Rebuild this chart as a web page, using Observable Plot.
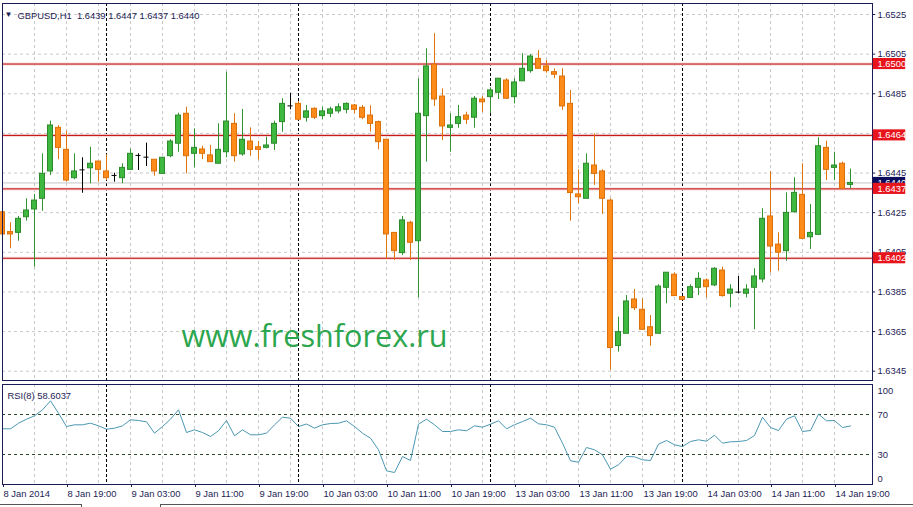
<!DOCTYPE html>
<html><head><meta charset="utf-8">
<script src="https://cdn.jsdelivr.net/npm/d3@7"></script>
<script src="https://cdn.jsdelivr.net/npm/@observablehq/plot@0.6"></script>
<style>
body{margin:0;background:#fff;width:913px;height:507px;overflow:hidden;font-family:"Liberation Sans",Arial,sans-serif;}
#wrap{position:relative;width:913px;height:507px;}
#main,#rsi{position:absolute;left:0;}
#main{top:0}
#rsi{top:382px}
.tab{position:absolute;top:504px;height:4px;border-top:1px solid #555;}
svg text{white-space:pre;}
</style></head><body><div id="wrap"><div id="main"></div><div id="rsi"></div>
<div class="tab" style="left:0;width:81px;border-right:1px solid #555"></div>
<div class="tab" style="left:160px;width:753px;border-left:1px solid #555"></div>
</div>
<script>
const symbol = "GBPUSD,H1";
const open  = [1.64252,1.64152,1.64148,1.64227,1.64266,1.64320,1.64458,1.64678,1.64567,1.64424,1.64466,1.64474,1.64508,1.64458,1.64438,1.64424,1.64466,1.64539,1.64530,1.64517,1.64446,1.64535,1.64598,1.64749,1.64547,1.64569,1.64539,1.64497,1.64555,1.64698,1.64544,1.64609,1.64580,1.64577,1.64598,1.64707,1.64789,1.64799,1.64729,1.64774,1.64737,1.64749,1.64761,1.64769,1.64791,1.64779,1.64740,1.64707,1.64618,1.64148,1.64046,1.64199,1.64106,1.64737,1.64998,1.64836,1.64678,1.64698,1.64740,1.64729,1.64821,1.64833,1.64855,1.64917,1.64833,1.64913,1.64964,1.65026,1.64988,1.64959,1.64937,1.64799,1.64342,1.64320,1.64488,1.64458,1.64311,1.63577,1.63639,1.63812,1.63760,1.63672,1.63639,1.63871,1.63937,1.63824,1.63820,1.63871,1.63908,1.63883,1.63958,1.63841,1.63849,1.63841,1.63871,1.63913,1.64231,1.64089,1.64056,1.64252,1.64340,1.64126,1.64138,1.64577,1.64476,1.64497,1.6439];
const high  = [1.64303,1.64199,1.64231,1.64320,1.64342,1.64547,1.64712,1.64690,1.64660,1.64547,1.64527,1.64580,1.64508,1.64542,1.64449,1.64497,1.64570,1.64547,1.64601,1.64517,1.64527,1.64618,1.64752,1.64782,1.64673,1.64585,1.64589,1.64698,1.64959,1.64749,1.64771,1.64678,1.64609,1.64631,1.64712,1.64825,1.64853,1.64811,1.64791,1.64779,1.64782,1.64782,1.64799,1.64804,1.64796,1.64791,1.64789,1.64712,1.64618,1.64148,1.64231,1.64207,1.64926,1.65077,1.65153,1.64875,1.64749,1.64791,1.64757,1.64836,1.64836,1.64880,1.64926,1.64926,1.64926,1.65052,1.65048,1.65068,1.65018,1.64976,1.64976,1.64867,1.64466,1.64547,1.64648,1.64466,1.64320,1.63723,1.63832,1.63862,1.63815,1.63731,1.63886,1.63947,1.63947,1.63824,1.63886,1.63947,1.63916,1.63972,1.63975,1.63886,1.63928,1.63886,1.63967,1.64270,1.64458,1.64148,1.64350,1.64426,1.64497,1.64291,1.64628,1.64611,1.64555,1.64505,1.6447];
const low   = [1.64135,1.64068,1.64106,1.64207,1.63975,1.64257,1.64438,1.64517,1.64404,1.64416,1.64348,1.64396,1.64404,1.64412,1.64404,1.64396,1.64466,1.64463,1.64483,1.64434,1.64446,1.64527,1.64555,1.64446,1.64476,1.64518,1.64505,1.64497,1.64527,1.64505,1.64535,1.64535,1.64517,1.64572,1.64564,1.64656,1.64769,1.64715,1.64707,1.64720,1.64720,1.64729,1.64749,1.64749,1.64749,1.64719,1.64656,1.64567,1.64014,1.64009,1.64034,1.64009,1.63820,1.64505,1.64786,1.64614,1.64555,1.64676,1.64695,1.64676,1.64757,1.64749,1.64821,1.64821,1.64799,1.64913,1.64954,1.64976,1.64954,1.64926,1.64766,1.64207,1.64295,1.64320,1.64387,1.64241,1.63455,1.63546,1.63639,1.63756,1.63659,1.63576,1.63639,1.63790,1.63829,1.63810,1.63820,1.63832,1.63820,1.63877,1.63824,1.63770,1.63841,1.63820,1.63659,1.63896,1.63945,1.63955,1.64005,1.64249,1.64118,1.64064,1.64138,1.64412,1.64412,1.64370,1.6437];
const close = [1.64140,1.64140,1.64219,1.64261,1.64311,1.64446,1.64690,1.64577,1.64412,1.64458,1.64466,1.64497,1.64466,1.64424,1.64438,1.64476,1.64547,1.64539,1.64530,1.64458,1.64527,1.64609,1.64740,1.64535,1.64577,1.64547,1.64505,1.64567,1.64710,1.64535,1.64618,1.64567,1.64567,1.64589,1.64698,1.64799,1.64789,1.64719,1.64761,1.64729,1.64761,1.64771,1.64782,1.64799,1.64769,1.64729,1.64698,1.64606,1.64140,1.64056,1.64211,1.64098,1.64749,1.64988,1.64821,1.64685,1.64690,1.64732,1.64719,1.64825,1.64807,1.64867,1.64926,1.64825,1.64907,1.64976,1.65038,1.64976,1.64964,1.64946,1.64786,1.64349,1.64328,1.64497,1.64446,1.64320,1.63567,1.63647,1.63802,1.63768,1.63659,1.63627,1.63877,1.63947,1.63829,1.63810,1.63874,1.63916,1.63874,1.63967,1.63829,1.63862,1.63849,1.63862,1.63928,1.64219,1.64079,1.64048,1.64249,1.64350,1.64118,1.64148,1.64585,1.64466,1.64488,1.64370,1.6440];
const rsiName = "RSI(8)";
const rsi = [55.7,55.7,61.3,65.3,68.7,74.7,83.7,71.3,58,59.7,59.7,61.3,58.7,55.3,56.3,58.7,64.7,64,62.7,51.3,58,65.3,74.7,52,54.7,52,48,53.7,64,48.7,54.7,49.7,49.7,51.3,59.7,67.3,66.3,58,60.5,56.3,59.7,61,61.3,63.7,58,51.3,46.3,34.7,13.7,12,28,24,60.3,65.3,59.7,53,53,54.7,53.7,58.7,57.3,60.3,63.7,55.7,59.7,63,66.3,60.7,59.7,57.3,41.3,23.7,22.3,37,34.7,29.7,15.3,19.7,28,27.7,24.7,24,40.3,44,39.7,38,43,44.7,43.3,49.3,41.3,42.7,43,44,49,67.3,57,54,65.3,68.7,53,54,70.3,63.7,64,57,58.6037];
const levels = [1.6500, 1.6464, 1.6437, 1.6402];
const bid = 1.6440;
const priceTicks = [1.6345,1.6365,1.6385,1.6405,1.6425,1.6445,1.6465,1.6485,1.6505,1.6525];
const timeTickIdx = [0,8,16,24,32,40,48,56,64,72,80,88,96,104];
const timeTickLabels = ["8 Jan 2014","8 Jan 19:00","9 Jan 03:00","9 Jan 11:00","9 Jan 19:00","10 Jan 03:00","10 Jan 11:00","10 Jan 19:00","13 Jan 03:00","13 Jan 11:00","13 Jan 19:00","14 Jan 03:00","14 Jan 11:00","14 Jan 19:00"];
const daySepIdx = [13,37,61,85];
const rsiLevels = [30,70];
const watermark = "www.freshforex.ru";

const ink = "#1c1c54";
const FS = 9.4;
const font = "'Liberation Sans', Arial, sans-serif";
const xDomain = [0, 108.75];
const gridIdx = d3.range(4, 108, 4);
const bars = open.map((o, i) => ({i, o, h: high[i], l: low[i], c: close[i]}));
const bull = bars.filter(d => d.c > d.o), bear = bars.filter(d => d.c < d.o), doji = bars.filter(d => d.c === d.o);
const last = bars[bars.length - 1];
const f4 = v => v.toFixed(4);
const title = `${symbol}  ${f4(last.o)} ${f4(last.h)} ${f4(last.l)} ${f4(last.c)}`;
const half = 0.3125, boxH = 0.00028;
const xEnd = xDomain[1];
// axis labels fully hidden behind a level label in the reference are not drawn
const shownTicks = priceTicks.filter(t => !levels.some(l => Math.abs(l - t) < 0.00015));

const main = Plot.plot({
  width: 913, height: 382,
  marginLeft: 2, marginRight: 41, marginTop: 3, marginBottom: 2,
  style: {fontFamily: font, fontSize: FS + "px", background: "transparent", overflow: "visible"},
  x: {type: "linear", domain: xDomain, axis: null},
  y: {domain: [1.634031, 1.653055], axis: null},
  marks: [
    Plot.ruleY(priceTicks, {stroke: "#c8c8c8", strokeDasharray: "3,3"}),
    Plot.ruleX(gridIdx, {stroke: "#c8c8c8", strokeDasharray: "3,3"}),
    Plot.ruleX(daySepIdx, {stroke: "#000", strokeDasharray: "3,2"}),
    Plot.ruleY([bid], {stroke: "#c4c4c4"}),
    Plot.ruleY(levels, {stroke: "#f8dcdc", strokeWidth: 3}),
    Plot.ruleY(levels, {stroke: "#bf0000"}),
    Plot.ruleX(bull, {x: "i", y1: "l", y2: "h", stroke: "#2f932f"}),
    Plot.ruleX(bear, {x: "i", y1: "l", y2: "h", stroke: "#e2740c"}),
    Plot.ruleX(doji, {x: "i", y1: "l", y2: "h", stroke: "#000"}),
    Plot.rect(bull, {x1: d => d.i - half, x2: d => d.i + half, y1: "o", y2: "c", fill: "#3fb83f", stroke: "#2c8a2c"}),
    Plot.rect(bear, {x1: d => d.i - half, x2: d => d.i + half, y1: "o", y2: "c", fill: "#ff8c1a", stroke: "#dc7008"}),
    Plot.ruleY(doji, {y: "o", x1: d => d.i - half, x2: d => d.i + half, stroke: "#000"}),
    Plot.frame({stroke: ink}),
    Plot.ruleY(priceTicks, {x1: xEnd, x2: xEnd + 0.4, stroke: ink}),
    Plot.text(shownTicks, {x: xEnd, y: d => d, text: f4, textAnchor: "start", dx: 5, fill: ink, fontSize: FS}),
    Plot.rect([bid], {x1: xEnd + 0.1, x2: xEnd + 4.15, y1: d => d - boxH, y2: d => d + boxH, fill: "#0c0c5c"}),
    Plot.text([bid], {x: xEnd, y: d => d, text: f4, textAnchor: "start", dx: 5, fill: "#fff", fontSize: FS}),
    Plot.rect(levels, {x1: xEnd + 0.1, x2: xEnd + 4.15, y1: d => d - boxH, y2: d => d + boxH, fill: "#e8141c"}),
    Plot.text(levels, {x: xEnd, y: d => d, text: f4, textAnchor: "start", dx: 5, fill: "#fff", fontSize: FS}),
    Plot.text(["\u25BC"], {frameAnchor: "top-left", dx: 6, dy: 8, fill: ink, fontSize: 8, textAnchor: "middle"}),
    Plot.text([title], {frameAnchor: "top-left", dx: 15, dy: 9, fill: ink, fontSize: FS, textAnchor: "start"}),
    Plot.text([watermark], {frameAnchor: "top-left", dx: 179, dy: 322, fill: "#2ca64e", fontSize: 30, textAnchor: "start", fontFamily: "'Open Sans', sans-serif"})
  ]
});
document.getElementById("main").appendChild(main);

// fit watermark width
main.querySelectorAll("text").forEach(t => {
  if (t.textContent === watermark) {
    const w = t.getComputedTextLength();
    if (w > 0) t.setAttribute("font-size", (30 * 266 / w).toFixed(2));
  }
});

const labelMap = new Map(timeTickIdx.map((d, k) => [d, timeTickLabels[k]]));
const rsiChart = Plot.plot({
  width: 913, height: 125,
  marginLeft: 2, marginRight: 41, marginTop: 2, marginBottom: 23,
  style: {fontFamily: font, fontSize: FS + "px", background: "transparent", overflow: "visible"},
  x: {type: "linear", domain: xDomain},
  y: {domain: [0, 100], axis: null},
  marks: [
    Plot.ruleX(gridIdx, {stroke: "#c8c8c8", strokeDasharray: "3,3"}),
    Plot.ruleX(daySepIdx, {stroke: "#000", strokeDasharray: "3,2"}),
    Plot.ruleY(rsiLevels, {stroke: "#2c4a2c", strokeDasharray: "3,3"}),
    Plot.line(rsi, {x: (d, i) => i, y: d => d, stroke: "#4b97b1", strokeWidth: 1}),
    Plot.frame({stroke: ink}),
    Plot.axisX(timeTickIdx, {tickFormat: d => labelMap.get(d), textAnchor: "start", tickSize: 3, tickPadding: 3, dx: 1, fill: ink, stroke: ink, fontSize: FS, label: null}),
    Plot.text(rsiLevels, {x: xEnd, y: d => d, text: d => String(d), textAnchor: "start", dx: 5, fill: ink, fontSize: FS}),
    Plot.text([100], {x: xEnd, y: d => d, text: d => String(d), textAnchor: "start", dx: 5, dy: 6, fill: ink, fontSize: FS}),
    Plot.text([0], {x: xEnd, y: d => d, text: d => String(d), textAnchor: "start", dx: 5, dy: -6, fill: ink, fontSize: FS}),
    Plot.text([`${rsiName} ${rsi[rsi.length - 1]}`], {frameAnchor: "top-left", dx: 5, dy: 8, fill: ink, fontSize: FS, textAnchor: "start"})
  ]
});
document.getElementById("rsi").appendChild(rsiChart);
</script>
</body></html>
